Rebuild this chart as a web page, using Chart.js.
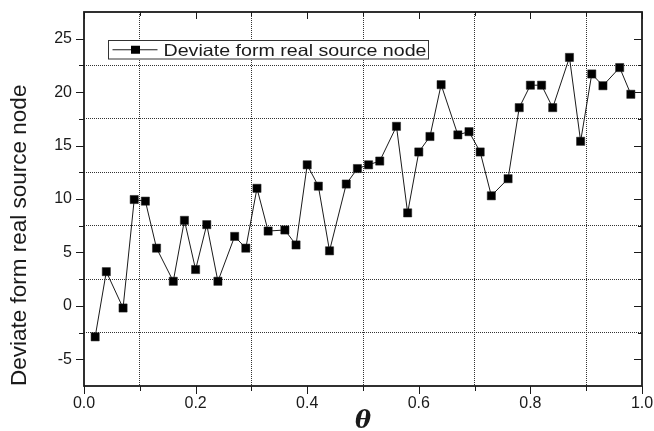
<!DOCTYPE html>
<html>
<head>
<meta charset="utf-8">
<script src="https://cdn.jsdelivr.net/npm/chart.js@4/dist/chart.umd.min.js"></script>
<style>
html,body{margin:0;padding:0;background:#fff;}
#wrap{width:654px;height:431px;}
</style>
</head>
<body>
<div id="wrap"><canvas id="c" width="654" height="431"></canvas></div>
<script>
// ---- data ----
const thetaValues = [0.02,0.04,0.07,0.09,0.11,0.13,0.16,0.18,0.20,0.22,0.24,0.27,0.29,0.31,0.33,0.36,0.38,0.40,0.42,0.44,0.47,0.49,0.51,0.53,0.56,0.58,0.60,0.62,0.64,0.67,0.69,0.71,0.73,0.76,0.78,0.80,0.82,0.84,0.87,0.89,0.91,0.93,0.96,0.98];
const deviationValues = [-2.9,3.2,-0.2,9.95,9.8,5.4,2.3,8.0,3.4,7.6,2.3,6.5,5.4,11.0,7.0,7.1,5.7,13.2,11.2,5.15,11.4,12.85,13.2,13.55,16.8,8.7,14.4,15.85,20.7,16.0,16.3,14.4,10.3,11.9,18.55,20.65,20.65,18.55,23.25,15.4,21.7,20.6,22.3,19.8];
const seriesLabel = 'Deviate form real source node';
const xAxisTitle = 'θ';
const yAxisTitle = 'Deviate form real source node';
const xTickLabels = ['0.0','0.2','0.4','0.6','0.8','1.0'];
const yTickLabels = ['-5','0','5','10','15','20','25'];

const FONT = '"Liberation Sans", Arial, sans-serif';
const INK = '#1a1a1a';

function isMinorX(v){ return Math.round(v*10) % 2 !== 0; }
function isMinorY(v){ return Math.abs(Math.round(v*10)) % 50 !== 0; }

const framePlugin = {
  id: 'frame',
  afterDraw(chart){
    const {ctx, chartArea:a, scales:{x, y}} = chart;
    ctx.save();
    ctx.strokeStyle = INK;
    ctx.lineWidth = 1;
    const line = (x1,y1,x2,y2)=>{ctx.beginPath();ctx.moveTo(x1,y1);ctx.lineTo(x2,y2);ctx.stroke();};
    x.ticks.forEach(t=>{
      const px = Math.round(x.getPixelForValue(t.value)) + 0.5;
      const len = isMinorX(t.value) ? 5 : 8;
      line(px, a.bottom, px, a.bottom + len);
      line(px, a.top, px, a.top + (isMinorX(t.value) ? 4 : 7));
    });
    y.ticks.forEach(t=>{
      if (t.value <= y.min || t.value >= y.max) return;
      const py = Math.round(y.getPixelForValue(t.value)) + 0.5;
      const len = isMinorY(t.value) ? 5 : 8;
      line(a.left - len, py, a.left, py);
      line(a.right - (isMinorY(t.value) ? 4 : 8), py, a.right, py);
    });
    ctx.lineWidth = 1.8;
    ctx.strokeRect(a.left, a.top, a.right - a.left, a.bottom - a.top);

    // legend box inside the plot
    const bx = a.left + 24.5, by = a.top + 28.5, bw = 320, bh = 18.5;
    ctx.fillStyle = '#fff';
    ctx.fillRect(bx, by, bw, bh);
    ctx.lineWidth = 1;
    ctx.strokeStyle = '#333';
    ctx.strokeRect(bx, by, bw, bh);
    const cy = by + bh/2;
    ctx.strokeStyle = INK;
    line(bx + 4, cy, bx + 49, cy);
    ctx.fillStyle = '#000';
    ctx.fillRect(bx + 22.5, cy - 4, 9, 8);
    ctx.font = '16.5px ' + FONT;
    ctx.textBaseline = 'alphabetic';
    ctx.textAlign = 'left';
    ctx.translate(bx + 55, by + 15.5);
    ctx.scale(1.19, 1);
    ctx.fillStyle = INK;
    ctx.fillText(seriesLabel, 0, 0);
    ctx.restore();
  }
};

new Chart(document.getElementById('c'), {
  type: 'scatter',
  data: {
    datasets: [{
      label: seriesLabel,
      data: thetaValues.map((t,i)=>({x:t, y:deviationValues[i]})),
      showLine: true,
      borderColor: INK,
      borderWidth: 1,
      pointStyle: 'rect',
      pointRadius: 5.8,
      pointBackgroundColor: '#000',
      pointBorderColor: '#222',
      pointBorderWidth: 0.5,
      tension: 0
    }]
  },
  options: {
    responsive: false,
    animation: false,
    devicePixelRatio: 1,
    layout: { padding: { top: 12, right: 12, left: 0, bottom: 0 } },
    plugins: { legend: { display: false }, tooltip: { enabled: false } },
    scales: {
      x: {
        type: 'linear', min: 0, max: 1,
        afterFit(s){ s.height = 45; s.paddingLeft = 0; s.paddingRight = 0; },
        ticks: {
          stepSize: 0.1, autoSkip: false, maxRotation: 0, padding: 8,
          color: INK, font: { family: FONT, size: 16 },
          callback(v){ const s = v.toFixed(1); return xTickLabels.includes(s) ? s : ''; }
        },
        grid: {
          drawTicks: false,
          lineWidth: 1,
          color: c => (c.tick && isMinorX(c.tick.value)) ? '#333' : 'rgba(0,0,0,0)'
        },
        border: { display: false, dash: [1, 1] },
        title: {
          display: true, text: xAxisTitle, color: INK,
          font: { family: '"DejaVu Serif", "Liberation Serif", serif', size: 24, style: 'italic', weight: 'bold', lineHeight: 1 },
          padding: { top: 0, bottom: -3 }
        }
      },
      y: {
        type: 'linear', min: -7.5, max: 27.5,
        afterFit(s){ s.width = 84; s.paddingTop = 0; s.paddingBottom = 0; },
        ticks: {
          stepSize: 2.5, autoSkip: false, padding: 12,
          color: INK, font: { family: FONT, size: 16 },
          callback(v){ const s = String(Math.round(v*10)/10); return yTickLabels.includes(s) ? s : ''; }
        },
        grid: {
          drawTicks: false,
          lineWidth: 1,
          color: c => (c.tick && isMinorY(c.tick.value) && c.tick.value > -7.5 && c.tick.value < 27.5) ? '#333' : 'rgba(0,0,0,0)'
        },
        border: { display: false, dash: [1, 1] },
        title: {
          display: true, text: yAxisTitle, color: INK, align: 'start',
          font: { family: FONT, size: 22.5, lineHeight: 1.2 },
          padding: { top: 6, bottom: 0 }
        }
      }
    }
  },
  plugins: [framePlugin]
});
</script>
</body>
</html>
